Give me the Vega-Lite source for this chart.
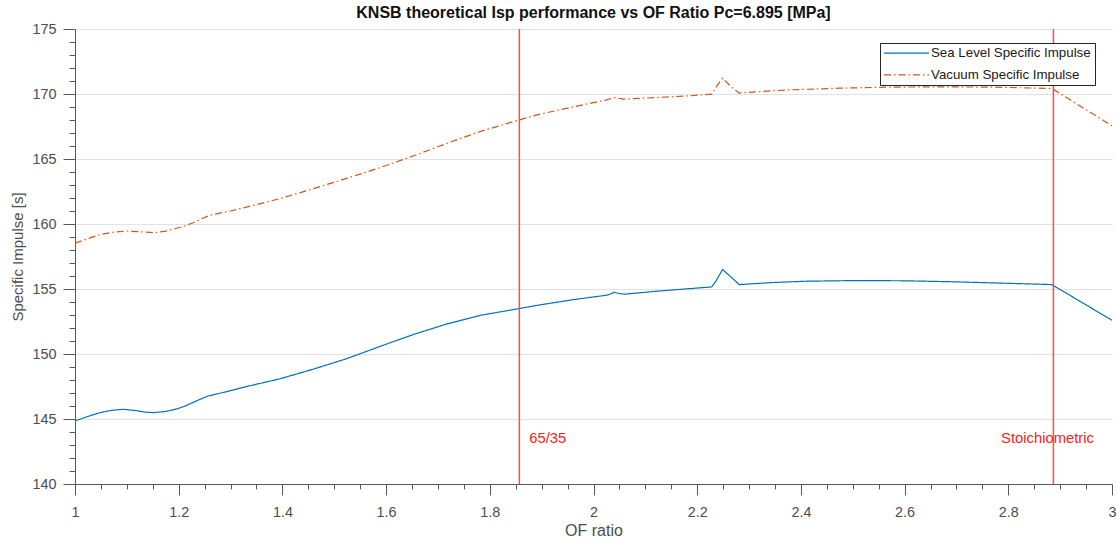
{
  "$schema": "https://vega.github.io/schema/vega-lite/v6.json",
  "width": 1037,
  "height": 455,
  "autosize": {"type": "none"},
  "padding": {"left": 75, "top": 29, "right": 5, "bottom": 63},
  "background": "white",
  "config": {
    "font": "Liberation Sans",
    "view": {"stroke": null},
    "axis": {
      "labelFont": "Liberation Sans",
      "titleFont": "Liberation Sans",
      "labelColor": "#4d4d4d",
      "titleColor": "#4d4d4d",
      "domainColor": "#5a5a5a",
      "tickColor": "#5a5a5a",
      "labelFontSize": 14.4,
      "titleFontSize": 15.5,
      "titleFontWeight": "normal"
    }
  },
  "title": {
    "text": "KNSB theoretical Isp performance vs OF Ratio Pc=6.895 [MPa]",
    "fontSize": 16,
    "fontWeight": "bold",
    "color": "#111111",
    "anchor": "middle",
    "frame": "group",
    "offset": 0
  },
  "datasets": {
    "isp": [
      {"of": 1.000, "isp": 144.85, "series": "Sea Level Specific Impulse"},
      {"of": 1.025, "isp": 145.20, "series": "Sea Level Specific Impulse"},
      {"of": 1.048, "isp": 145.49, "series": "Sea Level Specific Impulse"},
      {"of": 1.070, "isp": 145.66, "series": "Sea Level Specific Impulse"},
      {"of": 1.093, "isp": 145.75, "series": "Sea Level Specific Impulse"},
      {"of": 1.119, "isp": 145.64, "series": "Sea Level Specific Impulse"},
      {"of": 1.135, "isp": 145.53, "series": "Sea Level Specific Impulse"},
      {"of": 1.151, "isp": 145.49, "series": "Sea Level Specific Impulse"},
      {"of": 1.175, "isp": 145.58, "series": "Sea Level Specific Impulse"},
      {"of": 1.196, "isp": 145.77, "series": "Sea Level Specific Impulse"},
      {"of": 1.212, "isp": 145.99, "series": "Sea Level Specific Impulse"},
      {"of": 1.228, "isp": 146.28, "series": "Sea Level Specific Impulse"},
      {"of": 1.245, "isp": 146.58, "series": "Sea Level Specific Impulse"},
      {"of": 1.257, "isp": 146.77, "series": "Sea Level Specific Impulse"},
      {"of": 1.267, "isp": 146.86, "series": "Sea Level Specific Impulse"},
      {"of": 1.300, "isp": 147.18, "series": "Sea Level Specific Impulse"},
      {"of": 1.331, "isp": 147.50, "series": "Sea Level Specific Impulse"},
      {"of": 1.395, "isp": 148.09, "series": "Sea Level Specific Impulse"},
      {"of": 1.460, "isp": 148.84, "series": "Sea Level Specific Impulse"},
      {"of": 1.524, "isp": 149.64, "series": "Sea Level Specific Impulse"},
      {"of": 1.588, "isp": 150.58, "series": "Sea Level Specific Impulse"},
      {"of": 1.652, "isp": 151.49, "series": "Sea Level Specific Impulse"},
      {"of": 1.717, "isp": 152.31, "series": "Sea Level Specific Impulse"},
      {"of": 1.781, "isp": 152.97, "series": "Sea Level Specific Impulse"},
      {"of": 1.856, "isp": 153.49, "series": "Sea Level Specific Impulse"},
      {"of": 1.897, "isp": 153.78, "series": "Sea Level Specific Impulse"},
      {"of": 1.961, "isp": 154.18, "series": "Sea Level Specific Impulse"},
      {"of": 2.025, "isp": 154.52, "series": "Sea Level Specific Impulse"},
      {"of": 2.033, "isp": 154.62, "series": "Sea Level Specific Impulse"},
      {"of": 2.040, "isp": 154.75, "series": "Sea Level Specific Impulse"},
      {"of": 2.048, "isp": 154.66, "series": "Sea Level Specific Impulse"},
      {"of": 2.060, "isp": 154.60, "series": "Sea Level Specific Impulse"},
      {"of": 2.122, "isp": 154.83, "series": "Sea Level Specific Impulse"},
      {"of": 2.186, "isp": 155.03, "series": "Sea Level Specific Impulse"},
      {"of": 2.228, "isp": 155.16, "series": "Sea Level Specific Impulse"},
      {"of": 2.236, "isp": 155.60, "series": "Sea Level Specific Impulse"},
      {"of": 2.249, "isp": 156.50, "series": "Sea Level Specific Impulse"},
      {"of": 2.267, "isp": 155.86, "series": "Sea Level Specific Impulse"},
      {"of": 2.281, "isp": 155.34, "series": "Sea Level Specific Impulse"},
      {"of": 2.347, "isp": 155.50, "series": "Sea Level Specific Impulse"},
      {"of": 2.411, "isp": 155.60, "series": "Sea Level Specific Impulse"},
      {"of": 2.508, "isp": 155.65, "series": "Sea Level Specific Impulse"},
      {"of": 2.604, "isp": 155.63, "series": "Sea Level Specific Impulse"},
      {"of": 2.700, "isp": 155.55, "series": "Sea Level Specific Impulse"},
      {"of": 2.797, "isp": 155.44, "series": "Sea Level Specific Impulse"},
      {"of": 2.884, "isp": 155.34, "series": "Sea Level Specific Impulse"},
      {"of": 3.000, "isp": 152.59, "series": "Sea Level Specific Impulse"},
      {"of": 1.000, "isp": 158.52, "series": "Vacuum Specific Impulse"},
      {"of": 1.025, "isp": 158.88, "series": "Vacuum Specific Impulse"},
      {"of": 1.048, "isp": 159.18, "series": "Vacuum Specific Impulse"},
      {"of": 1.075, "isp": 159.38, "series": "Vacuum Specific Impulse"},
      {"of": 1.100, "isp": 159.46, "series": "Vacuum Specific Impulse"},
      {"of": 1.125, "isp": 159.40, "series": "Vacuum Specific Impulse"},
      {"of": 1.151, "isp": 159.33, "series": "Vacuum Specific Impulse"},
      {"of": 1.175, "isp": 159.45, "series": "Vacuum Specific Impulse"},
      {"of": 1.196, "isp": 159.67, "series": "Vacuum Specific Impulse"},
      {"of": 1.212, "isp": 159.85, "series": "Vacuum Specific Impulse"},
      {"of": 1.228, "isp": 160.10, "series": "Vacuum Specific Impulse"},
      {"of": 1.245, "isp": 160.42, "series": "Vacuum Specific Impulse"},
      {"of": 1.257, "isp": 160.62, "series": "Vacuum Specific Impulse"},
      {"of": 1.267, "isp": 160.74, "series": "Vacuum Specific Impulse"},
      {"of": 1.300, "isp": 161.00, "series": "Vacuum Specific Impulse"},
      {"of": 1.331, "isp": 161.30, "series": "Vacuum Specific Impulse"},
      {"of": 1.395, "isp": 161.95, "series": "Vacuum Specific Impulse"},
      {"of": 1.460, "isp": 162.72, "series": "Vacuum Specific Impulse"},
      {"of": 1.524, "isp": 163.51, "series": "Vacuum Specific Impulse"},
      {"of": 1.588, "isp": 164.33, "series": "Vacuum Specific Impulse"},
      {"of": 1.652, "isp": 165.23, "series": "Vacuum Specific Impulse"},
      {"of": 1.717, "isp": 166.20, "series": "Vacuum Specific Impulse"},
      {"of": 1.781, "isp": 167.11, "series": "Vacuum Specific Impulse"},
      {"of": 1.856, "isp": 168.00, "series": "Vacuum Specific Impulse"},
      {"of": 1.897, "isp": 168.45, "series": "Vacuum Specific Impulse"},
      {"of": 1.961, "isp": 169.01, "series": "Vacuum Specific Impulse"},
      {"of": 2.025, "isp": 169.55, "series": "Vacuum Specific Impulse"},
      {"of": 2.041, "isp": 169.73, "series": "Vacuum Specific Impulse"},
      {"of": 2.057, "isp": 169.60, "series": "Vacuum Specific Impulse"},
      {"of": 2.122, "isp": 169.73, "series": "Vacuum Specific Impulse"},
      {"of": 2.186, "isp": 169.86, "series": "Vacuum Specific Impulse"},
      {"of": 2.228, "isp": 169.99, "series": "Vacuum Specific Impulse"},
      {"of": 2.238, "isp": 170.63, "series": "Vacuum Specific Impulse"},
      {"of": 2.249, "isp": 171.22, "series": "Vacuum Specific Impulse"},
      {"of": 2.267, "isp": 170.50, "series": "Vacuum Specific Impulse"},
      {"of": 2.281, "isp": 170.07, "series": "Vacuum Specific Impulse"},
      {"of": 2.347, "isp": 170.25, "series": "Vacuum Specific Impulse"},
      {"of": 2.379, "isp": 170.32, "series": "Vacuum Specific Impulse"},
      {"of": 2.475, "isp": 170.45, "series": "Vacuum Specific Impulse"},
      {"of": 2.572, "isp": 170.53, "series": "Vacuum Specific Impulse"},
      {"of": 2.668, "isp": 170.55, "series": "Vacuum Specific Impulse"},
      {"of": 2.765, "isp": 170.53, "series": "Vacuum Specific Impulse"},
      {"of": 2.884, "isp": 170.43, "series": "Vacuum Specific Impulse"},
      {"of": 3.000, "isp": 167.55, "series": "Vacuum Specific Impulse"}
    ],
    "refs": [
      {"of": 1.857, "label": "65/35", "labelOf": 1.876, "labelIsp": 143.45},
      {"of": 2.887, "label": "Stoichiometric", "labelOf": 2.786, "labelIsp": 143.45}
    ]
  },
  "layer": [
    {
      "data": {"name": "isp"},
      "mark": {"type": "line", "strokeWidth": 1.2, "clip": true},
      "encoding": {
        "x": {
          "field": "of",
          "type": "quantitative",
          "scale": {"domain": [1, 3], "nice": false, "zero": false},
          "axis": {
            "orient": "bottom",
            "title": "OF ratio",
            "titleFontSize": 16,
            "values": [1, 1.2, 1.4, 1.6, 1.8, 2, 2.2, 2.4, 2.6, 2.8, 3],
            "format": "~g",
            "grid": false,
            "tickSize": 11,
            "labelPadding": 10,
            "titlePadding": 4,
            "labelFlush": false
          }
        },
        "y": {
          "field": "isp",
          "type": "quantitative",
          "scale": {"domain": [140, 175], "nice": false, "zero": false},
          "axis": {
            "orient": "left",
            "title": "Specific Impulse [s]",
            "titleFontSize": 15,
            "values": [140, 145, 150, 155, 160, 165, 170, 175],
            "grid": true,
            "gridColor": "#e2e2e2",
            "tickSize": 12,
            "labelPadding": 7,
            "titlePadding": 6
          }
        },
        "color": {
          "field": "series",
          "type": "nominal",
          "scale": {
            "domain": ["Sea Level Specific Impulse", "Vacuum Specific Impulse"],
            "range": ["#0072BD", "#D95319"]
          },
          "legend": {
            "orient": "none",
            "legendX": 805,
            "legendY": 14,
            "title": null,
            "strokeColor": "#262626",
            "fillColor": "white",
            "padding": 3.5,
            "symbolType": "M-4,0H4",
            "symbolSize": 126.5625,
            "symbolStrokeWidth": 1.2,
            "symbolOffset": 16.35,
            "labelFontSize": 13.3,
            "labelColor": "#1a1a1a",
            "labelFont": "Liberation Sans",
            "labelOffset": 17.85,
            "rowPadding": 7.7
          }
        },
        "strokeDash": {
          "field": "series",
          "type": "nominal",
          "scale": {
            "domain": ["Sea Level Specific Impulse", "Vacuum Specific Impulse"],
            "range": [[1, 0], [7, 3, 1.5, 3]]
          },
          "legend": {
            "orient": "none",
            "legendX": 805,
            "legendY": 14,
            "title": null,
            "strokeColor": "#262626",
            "fillColor": "white",
            "padding": 3.5,
            "symbolType": "M-4,0H4",
            "symbolSize": 126.5625,
            "symbolStrokeWidth": 1.2,
            "symbolOffset": 16.35,
            "labelFontSize": 13.3,
            "labelColor": "#1a1a1a",
            "labelFont": "Liberation Sans",
            "labelOffset": 17.85,
            "rowPadding": 7.7
          }
        }
      }
    },
    {
      "data": {"name": "isp"},
      "mark": {"type": "point", "opacity": 0},
      "encoding": {
        "x": {
          "field": "of",
          "type": "quantitative",
          "axis": {
            "orient": "bottom",
            "title": null,
            "labels": false,
            "domain": false,
            "grid": false,
            "tickSize": 5,
            "values": [1.05, 1.1, 1.15, 1.25, 1.3, 1.35, 1.45, 1.5, 1.55, 1.65, 1.7, 1.75, 1.85, 1.9, 1.95, 2.05, 2.1, 2.15, 2.25, 2.3, 2.35, 2.45, 2.5, 2.55, 2.65, 2.7, 2.75, 2.85, 2.9, 2.95]
          }
        },
        "y": {
          "field": "isp",
          "type": "quantitative",
          "axis": {
            "orient": "left",
            "title": null,
            "labels": false,
            "domain": false,
            "grid": false,
            "tickSize": 6,
            "values": [141, 142, 143, 144, 146, 147, 148, 149, 151, 152, 153, 154, 156, 157, 158, 159, 161, 162, 163, 164, 166, 167, 168, 169, 171, 172, 173, 174]
          }
        }
      }
    },
    {
      "data": {"name": "refs"},
      "mark": {"type": "rule", "color": "#ff4d4d", "strokeWidth": 1.5},
      "encoding": {
        "x": {"field": "of", "type": "quantitative", "axis": null}
      }
    },
    {
      "data": {"name": "refs"},
      "mark": {"type": "text", "color": "#ff2020", "fontSize": 14.8, "align": "left", "baseline": "middle", "font": "Liberation Sans"},
      "encoding": {
        "x": {"field": "labelOf", "type": "quantitative", "axis": null},
        "y": {"field": "labelIsp", "type": "quantitative", "axis": null},
        "text": {"field": "label"}
      }
    }
  ],
  "resolve": {"axis": {"x": "independent", "y": "independent"}}
}
